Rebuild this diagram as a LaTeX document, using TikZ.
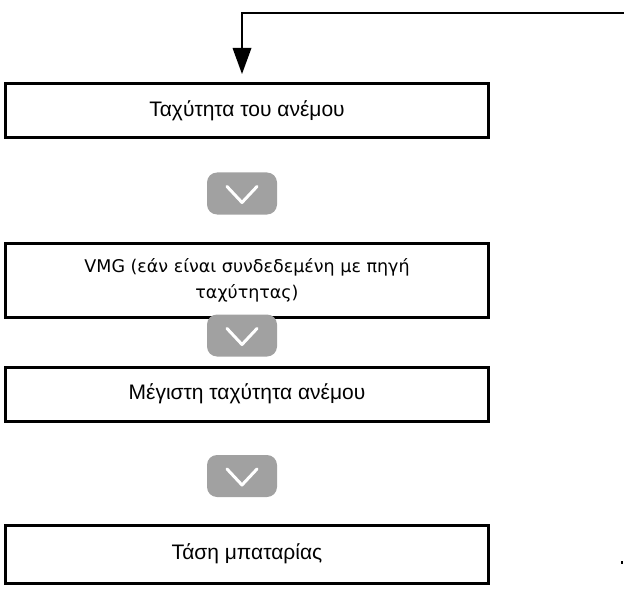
\documentclass[tikz,border=0pt]{standalone}
\usepackage{fontspec}
\setmainfont{Liberation Sans}
\newfontfamily\vmgfont{DejaVu Sans}
\tikzset{
  flowbox/.style={draw=black, line width=3pt, minimum width=483pt, inner sep=0pt, font=\fontsize{21}{25}\selectfont, align=center},
  btn/.style={fill=black!37, draw=none, rounded corners=10pt, minimum width=70pt, minimum height=42pt, inner sep=0pt},
  chev/.style={draw=white, line width=3pt, line cap=round, line join=round},
  link/.style={draw=black, line width=2pt}
}
\begin{document}
\begin{tikzpicture}[x=1pt,y=-1pt]
\useasboundingbox (0,0) rectangle (624,607);
\node[flowbox, minimum height=54pt] (b1) at (247,111) {Ταχύτητα του ανέμου};
\node[flowbox, minimum height=74pt, font=\vmgfont\fontsize{17.5}{26}\selectfont] (b2) at (247,280) {VMG (εάν είναι συνδεδεμένη με πηγή\\ταχύτητας)};
\node[flowbox, minimum height=54pt] (b3) at (247,394) {Μέγιστη ταχύτητα ανέμου};
\node[flowbox, minimum height=58pt] (b4) at (247,554) {Τάση μπαταρίας};
\node[btn] (k1) at (242,193.5) {};
\node[btn] (k2) at (242,335.5) {};
\node[btn] (k3) at (242,476) {};
\foreach \k in {k1,k2,k3}{
  \draw[chev] (\k.center) ++(-15,-7) -- ++(15,16) -- ++(15,-16);
}
\coordinate (s) at (624,13);
\coordinate (t) at (242,74);
\draw[link] (s) -- (242,13) -- ([yshift=20pt]t);
\fill[black] (t) -- ++(-9.5,-26) -- ++(19,0) -- cycle;
\fill[black] (621,561) rectangle (623,564);
\end{tikzpicture}
\end{document}
